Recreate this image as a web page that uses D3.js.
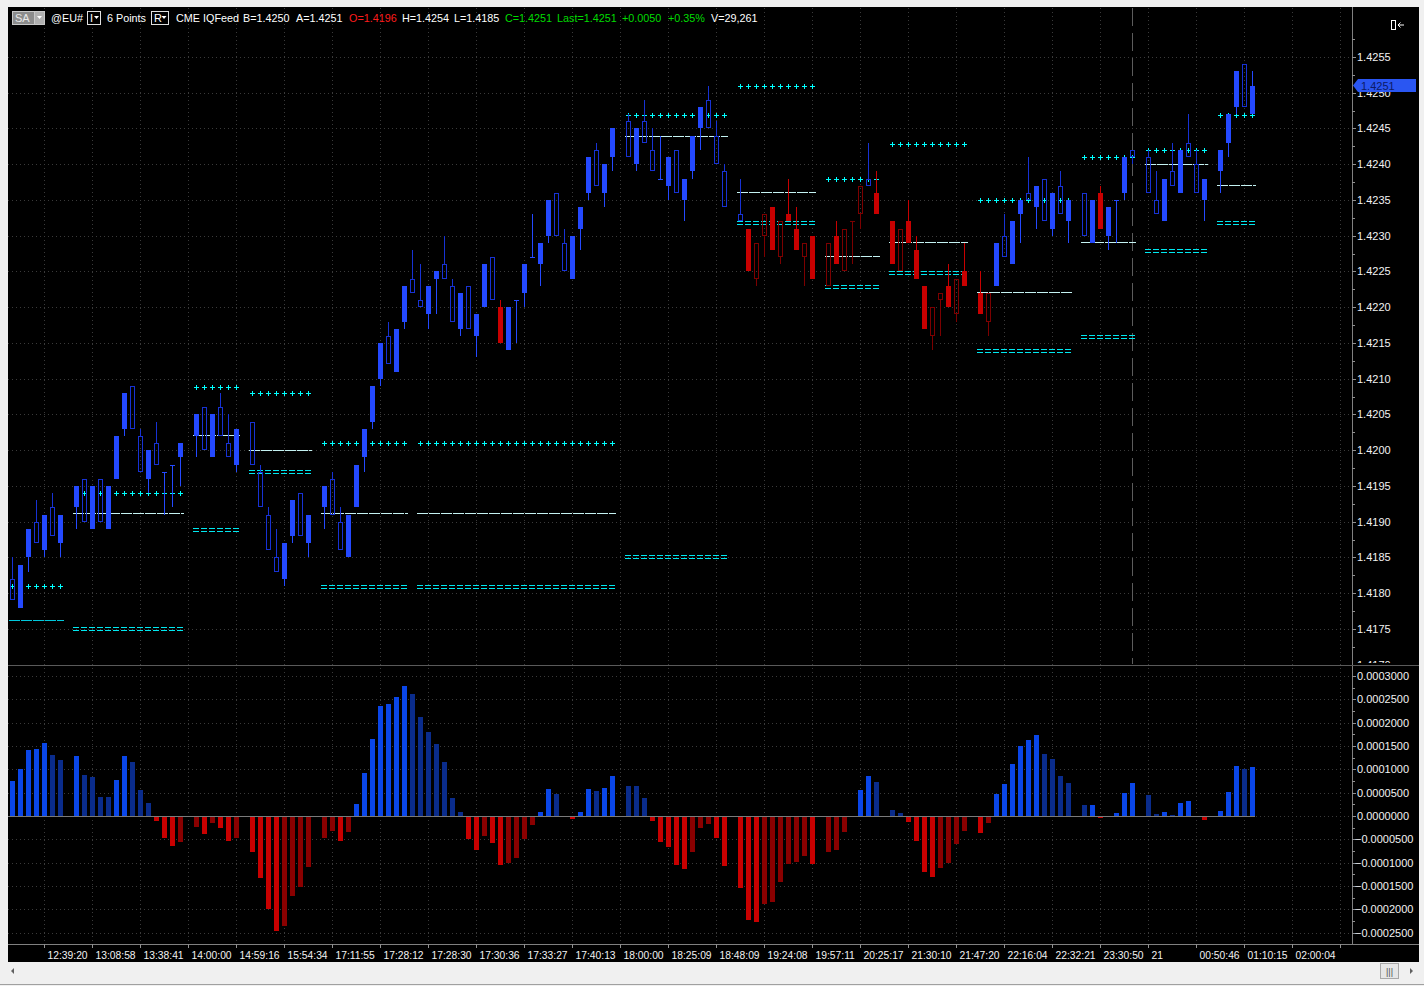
<!DOCTYPE html>
<html><head><meta charset="utf-8">
<script src="https://cdn.jsdelivr.net/npm/d3@7"></script>
<style>
html,body{margin:0;padding:0;background:#f0f0f0;overflow:hidden}
svg{display:block;font-family:"Liberation Sans",Arial,sans-serif}
</style></head><body>
<svg id="c" width="1424" height="986"></svg>
<script>
// ---------------- DATA ----------------
// 6-tick range bars, one slot per bar (null = empty slot / session gap)
const openP = [
1.4182,1.4178,1.4185,1.4190,1.4186,1.4192,1.4187,null,1.4192,1.4196,
1.4189,1.4196,1.4189,1.4196,1.4203,1.4209,1.4202,1.4196,1.4201,1.4197,
1.4198,1.4199,null,1.4202,1.4206,1.4199,1.4206,1.4201,1.4198,null,
1.4204,1.4197,1.4191,1.4185,1.4182,1.4188,1.4194,1.4187,null,1.4192,
1.4196,1.4190,1.4185,1.4192,1.4199,1.4204,1.4210,1.4216,1.4211,1.4218,
1.4224,1.4221,1.4219,1.4224,1.4226,1.4223,1.4217,1.4223,1.4216,1.4220,
1.4227,1.4215,1.4214,1.4221,1.4222,1.4227,1.4226,1.4230,1.4236,1.4229,
1.4224,1.4231,1.4236,1.4242,1.4236,1.4241,null,1.4246,1.4240,1.4246,
1.4242,1.4238,1.4237,1.4242,1.4235,1.4239,1.4245,1.4249,1.4244,1.4239,
null,1.4233,1.4225,1.4229,1.4233,1.4228,1.4232,1.4232,1.4228,1.4229,
1.4224,null,1.4229,1.4226,1.4231,1.4232,1.4237,1.4238,1.4233,null,
1.4226,1.4231,1.4229,1.4224,1.4217,1.4220,1.4222,1.4220,1.4224,1.4223,
null,1.4219,1.4222,1.4223,1.4230,1.4226,1.4233,1.4236,1.4234,1.4238,
1.4231,1.4237,1.4232,null,1.4236,1.4229,1.4231,1.4230,1.4235,1.4236,
1.4242,null,1.4241,1.4235,1.4232,1.4239,1.4236,1.4243,1.4240,1.4235,
null,1.4239,1.4243,1.4248,1.4254,1.4247];
const highP = [
1.4185,1.4184,1.4189,1.4193,1.4191,1.4194,1.4191,null,1.4195,1.4196,
1.4195,1.4196,1.4195,1.4202,1.4208,1.4209,1.4203,1.4200,1.4204,1.4197,
1.4198,1.4201,null,1.4205,1.4206,1.4205,1.4208,1.4205,1.4203,null,
1.4204,1.4198,1.4192,1.4189,1.4187,1.4193,1.4194,1.4191,null,1.4195,
1.4197,1.4192,1.4191,1.4198,1.4203,1.4209,1.4215,1.4218,1.4217,1.4223,
1.4228,1.4226,1.4223,1.4225,1.4230,1.4224,1.4222,1.4223,1.4219,1.4226,
1.4227,1.4221,1.4220,1.4221,1.4226,1.4233,1.4229,1.4235,1.4236,1.4231,
1.4230,1.4234,1.4241,1.4243,1.4240,1.4245,null,1.4247,1.4245,1.4249,
1.4245,1.4244,1.4241,1.4242,1.4238,1.4244,1.4248,1.4251,1.4246,1.4240,
null,1.4238,1.4231,1.4229,1.4233,1.4234,1.4232,1.4238,1.4234,1.4229,
1.4230,null,1.4229,1.4232,1.4231,1.4232,1.4237,1.4243,1.4239,null,
1.4232,1.4231,1.4235,1.4230,1.4223,1.4220,1.4222,1.4226,1.4224,1.4229,
null,1.4225,1.4222,1.4229,1.4233,1.4232,1.4235,1.4241,1.4237,1.4238,
1.4236,1.4239,1.4235,null,1.4236,1.4235,1.4237,1.4234,1.4235,1.4241,
1.4242,null,1.4242,1.4239,1.4238,1.4243,1.4242,1.4247,1.4242,1.4238,
null,1.4242,1.4247,1.4253,1.4254,1.4253];
const lowP = [
1.4179,1.4178,1.4183,1.4187,1.4185,1.4188,1.4185,null,1.4189,1.4190,
1.4189,1.4190,1.4189,1.4196,1.4202,1.4203,1.4197,1.4194,1.4198,1.4191,
1.4192,1.4195,null,1.4199,1.4200,1.4199,1.4202,1.4199,1.4197,null,
1.4198,1.4192,1.4186,1.4183,1.4181,1.4187,1.4188,1.4185,null,1.4189,
1.4191,1.4186,1.4185,1.4192,1.4197,1.4203,1.4209,1.4212,1.4211,1.4217,
1.4222,1.4220,1.4217,1.4219,1.4224,1.4218,1.4216,1.4217,1.4213,1.4220,
1.4221,1.4215,1.4214,1.4215,1.4220,1.4227,1.4223,1.4229,1.4230,1.4225,
1.4224,1.4228,1.4235,1.4237,1.4234,1.4239,null,1.4241,1.4239,1.4243,
1.4239,1.4238,1.4235,1.4236,1.4232,1.4238,1.4242,1.4245,1.4240,1.4234,
null,1.4232,1.4225,1.4223,1.4227,1.4228,1.4226,1.4232,1.4228,1.4223,
1.4224,null,1.4223,1.4226,1.4225,1.4226,1.4231,1.4237,1.4233,null,
1.4226,1.4225,1.4229,1.4224,1.4217,1.4214,1.4216,1.4220,1.4218,1.4223,
null,1.4219,1.4216,1.4223,1.4227,1.4226,1.4229,1.4235,1.4231,1.4232,
1.4230,1.4233,1.4229,null,1.4230,1.4229,1.4231,1.4228,1.4229,1.4235,
1.4240,null,1.4236,1.4233,1.4232,1.4237,1.4236,1.4241,1.4236,1.4232,
null,1.4236,1.4241,1.4247,1.4248,1.4247];
const closeP = [
1.4179,1.4184,1.4189,1.4187,1.4191,1.4188,1.4191,null,1.4195,1.4190,
1.4195,1.4190,1.4195,1.4202,1.4208,1.4203,1.4197,1.4200,1.4198,1.4197,
1.4198,1.4201,null,1.4205,1.4200,1.4205,1.4202,1.4199,1.4203,null,
1.4198,1.4192,1.4186,1.4183,1.4187,1.4193,1.4188,1.4191,null,1.4195,
1.4191,1.4186,1.4191,1.4198,1.4203,1.4209,1.4215,1.4212,1.4217,1.4223,
1.4222,1.4220,1.4223,1.4225,1.4224,1.4218,1.4222,1.4217,1.4219,1.4226,
1.4221,1.4220,1.4220,1.4221,1.4226,1.4227,1.4229,1.4235,1.4230,1.4225,
1.4230,1.4234,1.4241,1.4237,1.4240,1.4245,null,1.4241,1.4245,1.4243,
1.4239,1.4238,1.4241,1.4236,1.4238,1.4244,1.4248,1.4245,1.4240,1.4234,
null,1.4232,1.4231,1.4224,1.4230,1.4234,1.4227,1.4233,1.4231,1.4227,
1.4230,null,1.4223,1.4230,1.4225,1.4232,1.4233,1.4237,1.4236,null,
1.4232,1.4225,1.4232,1.4228,1.4223,1.4216,1.4221,1.4223,1.4219,1.4225,
null,1.4222,1.4218,1.4229,1.4227,1.4232,1.4235,1.4235,1.4237,1.4232,
1.4236,1.4233,1.4235,null,1.4230,1.4235,1.4236,1.4234,1.4235,1.4241,
1.4241,null,1.4236,1.4233,1.4238,1.4237,1.4242,1.4241,1.4236,1.4238,
null,1.4242,1.4247,1.4253,1.4248,1.4251];
// slot ranges painted in the red (down-trend) colour
const redRanges = [[61,61],[92,106],[108,108],[110,122],[136,136]];

// histogram oscillator, one value per slot
const histV = [
7.51e-5,10.09e-5,14.16e-5,14.38e-5,15.67e-5,13.09e-5,12.02e-5,null,12.88e-5,8.80e-5,
8.37e-5,4.08e-5,4.08e-5,7.73e-5,12.88e-5,11.59e-5,5.58e-5,2.79e-5,-1.07e-5,-4.72e-5,
-6.44e-5,-5.58e-5,null,-2.36e-5,-3.86e-5,-1.50e-5,-2.58e-5,-5.36e-5,-4.72e-5,null,
-7.73e-5,-13.3e-5,-19.96e-5,-24.68e-5,-23.6e-5,-17.17e-5,-15.24e-5,-10.94e-5,null,-4.72e-5,
-3.22e-5,-5.36e-5,-3.43e-5,2.58e-5,9.23e-5,16.52e-5,23.6e-5,24.03e-5,25.54e-5,27.9e-5,
26.18e-5,21.24e-5,18.03e-5,15.45e-5,11.59e-5,3.86e-5,0.86e-5,-4.94e-5,-7.30e-5,-4.29e-5,
-5.79e-5,-10.5e-5,-10.09e-5,-9.01e-5,-4.94e-5,-1.93e-5,0.86e-5,5.79e-5,4.72e-5,0,
-0.64e-5,0.86e-5,5.79e-5,5.36e-5,6.0e-5,8.58e-5,null,6.44e-5,6.44e-5,3.86e-5,
-1.07e-5,-5.58e-5,-6.65e-5,-10.5e-5,-11.37e-5,-7.73e-5,-2.5e-5,-1.65e-5,-4.65e-5,-10.66e-5,
null,-15.38e-5,-22.25e-5,-22.68e-5,-18.81e-5,-18.38e-5,-14.09e-5,-10.23e-5,-9.80e-5,-8.51e-5,
-10.23e-5,null,-7.65e-5,-7.22e-5,-3.36e-5,0,5.58e-5,8.58e-5,7.30e-5,null,
1.29e-5,0.64e-5,-1.29e-5,-5.36e-5,-12.02e-5,-13.09e-5,-11.16e-5,-10.09e-5,-6.01e-5,-3.22e-5,
null,-3.65e-5,-1.5e-5,4.72e-5,6.87e-5,11.16e-5,15.02e-5,16.31e-5,17.38e-5,13.3e-5,
12.23e-5,8.58e-5,7.08e-5,null,2.3e-5,2.4e-5,-0.3e-5,0,0.64e-5,4.94e-5,
7.08e-5,null,4.51e-5,0.43e-5,0.86e-5,0.2e-5,2.79e-5,3.22e-5,0,-0.86e-5,
null,1.07e-5,5.15e-5,10.73e-5,10.09e-5,10.52e-5];

// session level groups
const levelStart  = [0,8,23,30,39,51,77,91,102,110,121,134,142,151];
const levelEnd    = [6,21,28,37,49,75,89,100,108,119,132,140,149,155];
const levelPlus   = [1.41810,1.41940,1.42089,1.42080,1.42010,1.42010,1.42469,1.42509,1.42379,1.42429,1.42350,1.42410,1.42420,1.42469];
const levelMid    = [1.41762,1.41912,1.42021,1.42001,1.41912,1.41912,1.42440,1.42361,1.42272,1.42291,1.42221,1.42291,1.42401,1.42371];
const levelDouble = [null,1.41750,1.41889,1.41969,1.41809,1.41809,1.41851,1.42318,1.42229,1.42248,1.42139,1.42158,1.42279,1.42318];

// time axis
const timeTickSlots = [4,10,16,22,28,34,40,46,52,58,64,70,76,82,88,94,100,106,112,118,124,130,136,142,148,154,160,166];
const timeTickLabels = ["12:39:20","13:08:58","13:38:41","14:00:00","14:59:16","15:54:34","17:11:55","17:28:12","17:28:30","17:30:36","17:33:27","17:40:13","18:00:00","18:25:09","18:48:09","19:24:08","19:57:11","20:25:17","21:30:10","21:47:20","22:16:04","22:32:21","23:30:50","21","00:50:46","01:10:15","02:00:04",""];
const priceTicks = [1.4170,1.4175,1.4180,1.4185,1.4190,1.4195,1.4200,1.4205,1.4210,1.4215,1.4220,1.4225,1.4230,1.4235,1.4240,1.4245,1.4250,1.4255];
const histTicks = [0.0003,0.00025,0.0002,0.00015,0.0001,0.00005,0,-0.00005,-0.0001,-0.00015,-0.0002,-0.00025];
const lastPrice = 1.4251;
const sessionMarkSlot = 140;

// ---------------- DRAW ----------------
const svg = d3.select('#c');
const N = openP.length;
const x = d3.scaleLinear().domain([0, 155]).range([12.3, 1252.3]);
const yP = d3.scaleLinear().domain([1.4175, 1.4255]).range([629, 57]);
const yH = d3.scaleLinear().domain([-0.00025, 0.0003]).range([932.7, 676]);
const cx = i => Math.round(x(i));
const AX = 1352;

svg.append('rect').attr('width',1424).attr('height',986).attr('fill','#f0f0f0');
svg.append('rect').attr('x',8).attr('y',7).attr('width',1411).attr('height',955).attr('fill','#000');

const defs = svg.append('defs');
defs.append('clipPath').attr('id','pclip').append('rect').attr('x',8).attr('y',28).attr('width',AX-8).attr('height',636);
defs.append('clipPath').attr('id','hclip').append('rect').attr('x',8).attr('y',666).attr('width',AX-8).attr('height',278);
defs.append('clipPath').attr('id','lclip').append('rect').attr('x',AX).attr('y',28).attr('width',70).attr('height',635);

const grid = svg.append('g').attr('shape-rendering','crispEdges').attr('stroke','#3a3a3a').attr('stroke-dasharray','1,3');
priceTicks.forEach(p => { const y = Math.round(yP(p))+0.5; if (y<664) grid.append('line').attr('x1',8).attr('x2',AX).attr('y1',y).attr('y2',y); });
histTicks.forEach(v => { const y = Math.round(yH(v))+0.5; grid.append('line').attr('x1',8).attr('x2',AX).attr('y1',y).attr('y2',y); });
timeTickSlots.forEach(s => { const xx = cx(s)+0.5; if (xx<AX) grid.append('line').attr('x1',xx).attr('x2',xx).attr('y1',8).attr('y2',944); });

// session marker
svg.append('line').attr('x1',cx(sessionMarkSlot)+0.5).attr('x2',cx(sessionMarkSlot)+0.5).attr('y1',8).attr('y2',664)
  .attr('stroke','#5c5c5c').attr('stroke-dasharray','18,7').attr('shape-rendering','crispEdges');

// ---- level lines ----
const lv = svg.append('g').attr('clip-path','url(#pclip)').attr('shape-rendering','crispEdges');
levelStart.forEach((s,g) => {
  const e = levelEnd[g];
  const x0 = cx(s)-3, x1 = cx(e)+4;
  const ym = Math.round(yP(levelMid[g]))+0.5;
  lv.append('line').attr('x1',x0).attr('x2',x1).attr('y1',ym).attr('y2',ym)
    .attr('stroke', g===0 ? '#00c8dc' : '#c4f2f2').attr('stroke-dasharray','11,1');
  if (levelDouble[g] != null) {
    const yd = Math.round(yP(levelDouble[g]));
    [yd-1.5, yd+1.5].forEach(yy => lv.append('line').attr('x1',x0).attr('x2',x1).attr('y1',yy).attr('y2',yy)
      .attr('stroke','#00e8f0').attr('stroke-dasharray','6,2'));
  }
  const yp = Math.round(yP(levelPlus[g]))+0.5;
  d3.range(s, e+1).forEach(i => {
    const c = cx(i)+0.5;
    lv.append('line').attr('x1',c-2.5).attr('x2',c+2.5).attr('y1',yp).attr('y2',yp).attr('stroke','#00ffff');
    lv.append('line').attr('x1',c).attr('x2',c).attr('y1',yp-2.5).attr('y2',yp+2.5).attr('stroke','#00ffff');
  });
});

// ---- candles ----
const isRed = i => redRanges.some(r => i>=r[0] && i<=r[1]);
const cg = svg.append('g').attr('clip-path','url(#pclip)').attr('shape-rendering','crispEdges');
d3.range(N).filter(i => openP[i] != null).forEach(i => {
  const o=openP[i], h=highP[i], l=lowP[i], c=closeP[i];
  const red = isRed(i);
  const up = c > o, doji = c === o;
  const bright = red ? '#c80000' : '#2449ff';
  const dark = red ? '#7c0000' : '#1732d4';
  const col = (up || (doji && !red)) ? bright : dark;
  const X = cx(i);
  const yh = Math.round(yP(h)), yl = Math.round(yP(l));
  const yTop = Math.round(yP(Math.max(o,c))), yBot = Math.round(yP(Math.min(o,c)));
  if (doji) {
    cg.append('line').attr('x1',X+0.5).attr('x2',X+0.5).attr('y1',yh).attr('y2',yl).attr('stroke',col);
    cg.append('line').attr('x1',X-2).attr('x2',X+3).attr('y1',yTop+0.5).attr('y2',yTop+0.5).attr('stroke',col);
    return;
  }
  if (yh < yTop) cg.append('line').attr('x1',X+0.5).attr('x2',X+0.5).attr('y1',yh).attr('y2',yTop).attr('stroke',col);
  if (yl > yBot) cg.append('line').attr('x1',X+0.5).attr('x2',X+0.5).attr('y1',yBot).attr('y2',yl).attr('stroke',col);
  if (up) {
    cg.append('rect').attr('x',X-2).attr('y',yTop).attr('width',5).attr('height',Math.max(1,yBot-yTop)).attr('fill',col);
  } else {
    cg.append('rect').attr('x',X-1.5).attr('y',yTop+0.5).attr('width',4).attr('height',Math.max(1,yBot-yTop-1))
      .attr('fill','none').attr('stroke',col).attr('stroke-width',1);
  }
});

// ---- histogram ----
const hg = svg.append('g').attr('clip-path','url(#hclip)').attr('shape-rendering','crispEdges');
const y0 = Math.round(yH(0));
let prev = null;
d3.range(N).forEach(i => {
  const v = histV[i];
  if (v == null) return;
  const pv = prev; prev = v;
  if (v === 0) return;
  const pos = v > 0;
  const bright = pv == null ? true : (pos ? v > pv : v < pv);
  const col = pos ? (bright ? '#0a46e8' : '#0a2c8c') : (bright ? '#c80000' : '#8a0000');
  const yv = Math.round(yH(v));
  hg.append('rect').attr('x',cx(i)-2).attr('width',5)
    .attr('y', pos ? yv : y0+1).attr('height', Math.max(1, pos ? y0-yv : yv-y0-1)).attr('fill',col);
});
svg.append('line').attr('x1',8).attr('x2',cx(155)+3).attr('y1',y0+0.5).attr('y2',y0+0.5)
  .attr('stroke','#7a7a7a').attr('shape-rendering','crispEdges');

// ---- frame lines ----
const fr = svg.append('g').attr('shape-rendering','crispEdges').attr('stroke','#808080');
fr.append('line').attr('x1',AX+0.5).attr('x2',AX+0.5).attr('y1',7).attr('y2',944);
fr.append('line').attr('x1',8).attr('x2',1419).attr('y1',665.5).attr('y2',665.5).attr('stroke','#5a5a5a');
fr.append('line').attr('x1',8).attr('x2',1419).attr('y1',944.5).attr('y2',944.5);

// ---- price axis ----
const pa = svg.append('g').attr('clip-path','url(#lclip)');
priceTicks.forEach(p => {
  const y = Math.round(yP(p))+0.5;
  pa.append('line').attr('x1',AX).attr('x2',AX+4).attr('y1',y).attr('y2',y).attr('stroke','#909090').attr('shape-rendering','crispEdges');
  const ym = Math.round(yP(p+0.00025))+0.5;
  pa.append('line').attr('x1',AX).attr('x2',AX+3).attr('y1',ym).attr('y2',ym).attr('stroke','#909090').attr('shape-rendering','crispEdges');
  pa.append('text').attr('x',AX+5).attr('y',yP(p)).attr('dy','0.36em').attr('font-size',11).attr('fill','#f2f2f2').text(d3.format('.4f')(p));
});
// histogram axis
const fmtH = d3.format('.7f');
histTicks.forEach(v => {
  const y = Math.round(yH(v))+0.5;
  svg.append('line').attr('x1',AX).attr('x2',AX+4).attr('y1',y).attr('y2',y).attr('stroke','#909090').attr('shape-rendering','crispEdges');
  const ym = Math.round(yH(v-0.000025))+0.5;
  if (ym < 944) svg.append('line').attr('x1',AX).attr('x2',AX+3).attr('y1',ym).attr('y2',ym).attr('stroke','#909090').attr('shape-rendering','crispEdges');
  svg.append('text').attr('x', v<0 ? AX+3 : AX+5).attr('y',yH(v)).attr('dy','0.36em').attr('font-size',11).attr('fill','#f2f2f2').text(fmtH(v));
});
// last price flag
const yl = yP(lastPrice);
svg.append('path').attr('d',`M${AX+1},${yl} L${AX+6},${yl-6.5} L1416,${yl-6.5} L1416,${yl+6.5} L${AX+6},${yl+6.5} Z`).attr('fill','#2a56f2');
svg.append('text').attr('x',AX+9).attr('y',yl).attr('dy','0.36em').attr('font-size',11).attr('fill','#0c1a66').text(d3.format('.4f')(lastPrice));

// ---- time axis ----
timeTickSlots.forEach((s,k) => {
  const xx = cx(s)+0.5;
  if (xx >= AX) return;
  svg.append('line').attr('x1',xx).attr('x2',xx).attr('y1',944).attr('y2',948).attr('stroke','#909090').attr('shape-rendering','crispEdges');
  svg.append('text').attr('x',xx+3).attr('y',959).attr('font-size',10.3).attr('fill','#f2f2f2').text(timeTickLabels[k]);
});

// ---- header ----
const hy = 22;
svg.append('rect').attr('x',12.5).attr('y',11.5).attr('width',32).attr('height',13).attr('fill','#8c8c8c').attr('stroke','#c8c8c8');
svg.append('rect').attr('x',34.5).attr('y',11.5).attr('width',10).attr('height',13).attr('fill','#b0b0b0').attr('stroke','#c8c8c8');
svg.append('text').attr('x',15).attr('y',hy).attr('font-size',11).attr('fill','#e8e8e8').text('SA');
svg.append('path').attr('d','M37,16 L42,16 L39.5,19 Z').attr('fill','#fff');
[[87.5,'I'],[151.5,'R']].forEach(([bx,t]) => {
  svg.append('rect').attr('x',bx).attr('y',11.5).attr('width',bx===87.5?13:17).attr('height',13).attr('fill','#000').attr('stroke','#e0e0e0');
  svg.append('text').attr('x',bx+2.5).attr('y',hy).attr('font-size',11).attr('fill','#fff').text(t);
  const ax = bx + (bx===87.5?6.5:10);
  svg.append('path').attr('d',`M${ax},16 L${ax+5},16 L${ax+2.5},19 Z`).attr('fill','#fff');
});
const hdr = [[51,'@EU#','#fff'],[107,'6 Points','#fff'],[176,'CME','#fff'],[203,'IQFeed','#fff'],
 [243,'B=1.4250','#fff'],[296,'A=1.4251','#fff'],[349,'O=1.4196','#ff1c1c'],[402,'H=1.4254','#fff'],
 [454,'L=1.4185','#fff'],[505,'C=1.4251','#00dc00'],[557,'Last=1.4251','#00dc00'],[622,'+0.0050','#00dc00'],
 [668,'+0.35%','#00dc00'],[711,'V=29,261','#fff']];
hdr.forEach(([hx,t,c]) => svg.append('text').attr('x',hx).attr('y',hy).attr('font-size',10.8).attr('fill',c).text(t));
// top-right icon
svg.append('rect').attr('x',1391.5).attr('y',20.5).attr('width',4).attr('height',9).attr('fill','none').attr('stroke','#fff');
svg.append('path').attr('d','M1398,25 L1404,25 M1398,25 L1400.5,22.5 M1398,25 L1400.5,27.5').attr('stroke','#fff').attr('fill','none');

// ---- scrollbar ----
svg.append('rect').attr('x',0).attr('y',962).attr('width',1424).attr('height',24).attr('fill','#f0f0f0');
svg.append('line').attr('x1',0).attr('x2',1424).attr('y1',984.5).attr('y2',984.5).attr('stroke','#a0a0a0');
svg.append('path').attr('d','M11,971 L14,968 L14,974 Z').attr('fill','#606060');
svg.append('rect').attr('x',1380.5).attr('y',963.5).attr('width',18).attr('height',15).attr('fill','#e6e6e6').attr('stroke','#a8a8a8');
svg.append('text').attr('x',1389.5).attr('y',975).attr('text-anchor','middle').attr('font-size',9).attr('fill','#505050').text('|||');
svg.append('path').attr('d','M1410,968 L1413,971 L1410,974 Z').attr('fill','#606060');
</script>
</body></html>
